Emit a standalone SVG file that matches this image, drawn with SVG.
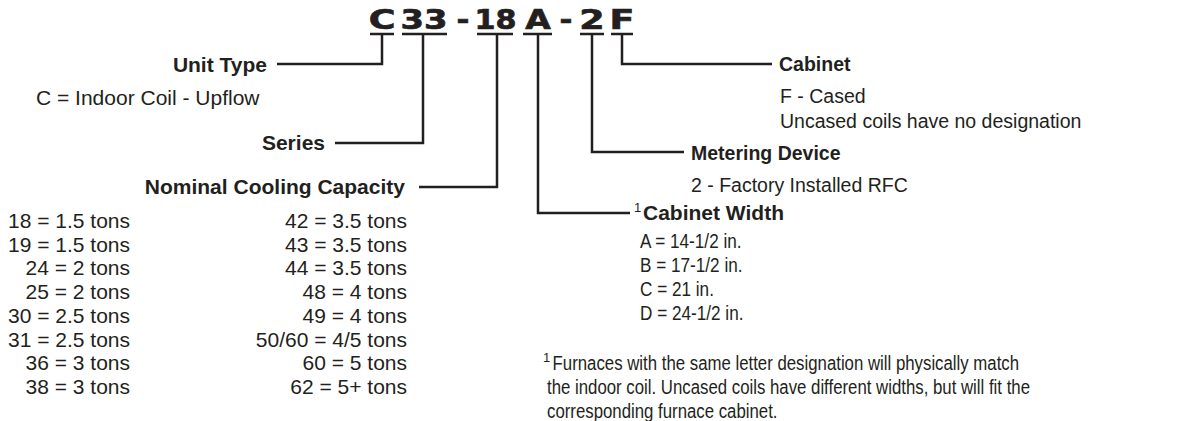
<svg xmlns="http://www.w3.org/2000/svg" width="1191" height="421" viewBox="0 0 1191 421">
<style>
  text { font-family: "Liberation Sans", Arial, sans-serif; font-size: 21px; fill: #231f20; }
  .b { font-weight: bold; }
  .r { font-size: 19.5px; }
  .code { font-family: "DejaVu Sans", sans-serif; font-weight: bold; font-size: 27px; text-anchor: middle; stroke: #231f20; stroke-width: 0.7; }
  .sup { font-size: 13px; font-weight: normal; }
  .end { text-anchor: end; }
  .ln { fill: none; stroke: #231f20; stroke-width: 2.5; stroke-linejoin: miter; stroke-linecap: butt; }
</style>
<rect width="1191" height="421" fill="#ffffff"/>

<g id="code">
  <text class="code" transform="translate(382,29) scale(1.35,1)">C</text>
  <text class="code" transform="translate(424,29) scale(1.25,1)">33</text>
  <text class="code" transform="translate(463,29) scale(1.15,1)">-</text>
  <text class="code" transform="translate(495.5,29) scale(1.12,1)">18</text>
  <text class="code" transform="translate(538,29) scale(1.22,1)">A</text>
  <text class="code" transform="translate(566,29) scale(1.15,1)">-</text>
  <text class="code" transform="translate(592,29) scale(1.35,1)">2</text>
  <text class="code" transform="translate(622,29) scale(1.35,1)">F</text>
</g>

<g id="connectors">
  <line class="ln" x1="370" y1="34" x2="394" y2="34"/>
  <line class="ln" x1="402" y1="34" x2="447" y2="34"/>
  <line class="ln" x1="477" y1="34" x2="513" y2="34"/>
  <line class="ln" x1="523" y1="34" x2="552" y2="34"/>
  <line class="ln" x1="580" y1="34" x2="604" y2="34"/>
  <line class="ln" x1="611" y1="34" x2="633" y2="34"/>
  <path class="ln" d="M382,34 V64 H277"/>
  <path class="ln" d="M423,34 V143 H335"/>
  <path class="ln" d="M497,34 V187 H419"/>
  <path class="ln" d="M538,34 V213 H630"/>
  <path class="ln" d="M592,34 V152 H684"/>
  <path class="ln" d="M622,34 V64 H772"/>
</g>

<g id="unit-type">
  <text class="b end" x="267" y="71.5">Unit Type</text>
  <text x="36" y="105" font-size="19">C = Indoor Coil - Upflow</text>
</g>

<g id="series">
  <text class="b end" x="325" y="150">Series</text>
</g>

<g id="capacity">
  <text class="b end" x="405" y="194">Nominal Cooling Capacity</text>
  <text class="end" x="130" y="228">18 = 1.5 tons</text>
  <text class="end" x="130" y="251.7">19 = 1.5 tons</text>
  <text class="end" x="130" y="275.4">24 = 2 tons</text>
  <text class="end" x="130" y="299.1">25 = 2 tons</text>
  <text class="end" x="130" y="322.8">30 = 2.5 tons</text>
  <text class="end" x="130" y="346.5">31 = 2.5 tons</text>
  <text class="end" x="130" y="370.2">36 = 3 tons</text>
  <text class="end" x="130" y="393.9">38 = 3 tons</text>
  <text class="end" x="407" y="228">42 = 3.5 tons</text>
  <text class="end" x="407" y="251.7">43 = 3.5 tons</text>
  <text class="end" x="407" y="275.4">44 = 3.5 tons</text>
  <text class="end" x="407" y="299.1">48 = 4 tons</text>
  <text class="end" x="407" y="322.8">49 = 4 tons</text>
  <text class="end" x="407" y="346.5">50/60 = 4/5 tons</text>
  <text class="end" x="407" y="370.2">60 = 5 tons</text>
  <text class="end" x="407" y="393.9">62 = 5+ tons</text>
</g>

<g id="cabinet">
  <text class="b r" x="779" y="71">Cabinet</text>
  <text class="r" x="780" y="103">F - Cased</text>
  <text class="r" x="780" y="128">Uncased coils have no designation</text>
</g>

<g id="metering">
  <text class="b r" x="691" y="159.5">Metering Device</text>
  <text class="r" x="691" y="192">2 - Factory Installed RFC</text>
</g>

<g id="cabinet-width">
  <text class="sup" x="634" y="212">1</text>
  <text class="b" x="643" y="220">Cabinet Width</text>
  <g transform="translate(640,0) scale(0.88,1)">
    <text class="r" x="0" y="248">A = 14-1/2 in.</text>
    <text class="r" x="0" y="272">B = 17-1/2 in.</text>
    <text class="r" x="0" y="296">C = 21 in.</text>
    <text class="r" x="0" y="320">D = 24-1/2 in.</text>
  </g>
</g>

<g id="footnote">
  <text class="sup" x="543" y="362">1</text>
  <g transform="translate(547,0) scale(0.8,1)">
    <text x="7" y="370">Furnaces with the same letter designation will physically match</text>
    <text x="0" y="394">the indoor coil. Uncased coils have different widths, but will fit the</text>
    <text x="0" y="418">corresponding furnace cabinet.</text>
  </g>
</g>
</svg>
